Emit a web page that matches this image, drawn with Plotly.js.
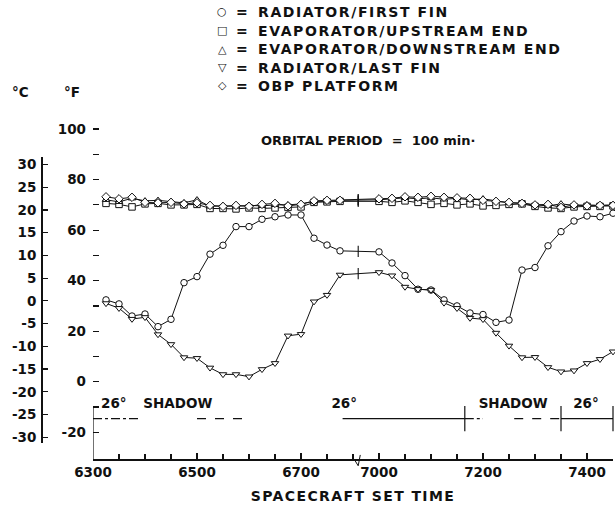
<!DOCTYPE html>
<html>
<head>
<meta charset="utf-8">
<script src="https://cdn.plot.ly/plotly-3.0.1.min.js"></script>
<style>
html,body{margin:0;padding:0;background:#fff;}
#chart{width:615px;height:513px;}
.xtitle{letter-spacing:1.4px;}
</style>
</head>
<body>
<div id="chart"></div>
<script>
// ---------------- DATA ----------------
const SERIES_NAMES = ['RADIATOR/FIRST FIN','EVAPORATOR/UPSTREAM END','EVAPORATOR/DOWNSTREAM END','RADIATOR/LAST FIN','OBP PLATFORM'];

// spacecraft set time of each reading
const TIME = [6325,6350,6375,6400,6425,6450,6475,6500,6525,6550,6575,6600,6625,6650,6675,6700,6725,6750,6775,
              7000,7025,7050,7075,7100,7125,7150,7175,7200,7225,7250,7275,7300,7325,7350,7375,7400,7425,7450];

// temperatures, deg F
const RADIATOR_FIRST_FIN = [32.4,30.8,26.0,26.8,21.8,24.7,39.2,41.6,50.5,54.0,61.4,61.4,64.3,65.3,66.0,66.0,56.8,54.1,51.8,
                            51.4,47.0,42.0,36.6,36.3,32.4,30.0,27.2,26.6,23.5,24.4,44.2,45.2,53.8,59.4,63.6,65.6,65.3,66.7];
const EVAP_UPSTREAM = [70.6,70.2,69.2,70.4,70.6,70.0,70.0,70.2,68.6,68.6,68.4,68.8,68.6,68.8,69.0,69.2,71.0,71.2,71.4,
                       71.4,71.0,71.6,71.0,70.2,70.6,70.0,70.4,69.6,69.8,70.2,70.4,69.4,68.8,68.6,69.2,69.4,69.4,69.6];
const EVAP_DOWNSTREAM = [72.0,71.2,72.6,71.6,71.8,71.4,70.8,72.0,69.4,69.6,69.4,69.8,69.6,70.0,70.0,70.4,71.4,71.4,71.8,
                         72.0,72.4,72.8,72.4,72.8,72.2,72.6,72.0,72.4,71.6,70.8,70.8,70.0,69.6,70.4,69.8,70.0,69.8,70.0];
const RADIATOR_LAST_FIN = [31.0,29.1,24.8,25.5,18.7,14.8,9.6,9.3,5.5,2.9,2.9,2.0,4.9,7.3,18.2,18.8,31.7,34.3,42.3,
                           43.3,42.0,37.5,36.6,36.3,31.2,29.1,25.2,24.7,19.3,14.2,9.6,9.7,5.7,4.0,4.4,7.3,8.9,11.9];
const OBP_PLATFORM = [73.2,72.4,73.0,71.0,70.8,71.0,70.4,70.8,69.8,69.4,69.8,69.4,70.2,70.6,69.6,70.2,71.6,71.8,71.8,
                      72.4,72.6,73.2,73.0,73.4,73.0,72.8,72.6,71.8,71.4,71.0,70.6,70.0,70.2,69.0,70.0,69.6,69.8,69.8];

// sun-angle / shadow bar
const BAR_START = [6300,6500,6780,7165,7260,7350];
const BAR_END   = [6390,6590,7165,7200,7350,7450];
const BAR_MARKS = [7165,7350,7450];
const BAR_LABELS = ['26°','SHADOW','26°','SHADOW','26°'];
const BAR_LABEL_TIME = [6340,6463,6783,7258,7398];

const X_TICK_LABELS = [6300,6500,6700,7000,7200,7400];
const F_TICKS = [-20,0,20,40,60,80,100];
const C_TICKS = [30,25,20,15,10,5,0,-5,-10,-15,-20,-25,-30];

// ---------------- STYLE / SCALES ----------------
const SERIES = [RADIATOR_FIRST_FIN, EVAP_UPSTREAM, EVAP_DOWNSTREAM, RADIATOR_LAST_FIN, OBP_PLATFORM];
const SYMBOLS = ['circle','square','triangle-up','triangle-down','diamond'];
const GLYPHS = ['○','□','△','▽','◇'];
const BAR_DASH = ['dashdot','dash','solid','dashdot','dash','solid'];
const FONT = '"DejaVu Sans", sans-serif';
const INK = '#111';

// broken time axis: the span between these two times is cut out
const BREAK_FROM = 6810, BREAK_TO = 6960;
const axisPos = t => (t >= BREAK_TO ? t - (BREAK_TO - BREAK_FROM) : t);

const W = 615, H = 513;
const M = {l: 40, r: 2, t: 120, b: 54};
const PW = W - M.l - M.r, PH = H - M.t - M.b;
const px2x = p => (p - M.l) / PW;          // pixel -> paper
const py2y = p => (H - M.b - p) / PH;

const F_RANGE = [-30.6, 103.6];
const cToF = c => c * 9 / 5 + 32;
const C_RANGE = [-31.3, 31.7];
const cFrac = c => (cToF(c) - F_RANGE[0]) / (F_RANGE[1] - F_RANGE[0]);

const BAR_LEVEL = -14.6;
const LABEL_LEVEL = -9.0;

const traces = [];
SERIES.forEach((vals, i) => {
  traces.push({
    type: 'scatter', mode: 'lines+markers', name: SERIES_NAMES[i],
    x: TIME.map(axisPos), y: vals,
    line: {color: INK, width: 1},
    marker: {symbol: SYMBOLS[i], size: 6.5, color: '#fff', line: {color: INK, width: 1}},
    cliponaxis: false, showlegend: false, hoverinfo: 'skip'
  });
});

// break marks on each curve (interpolated where it crosses the cut)
const iL = TIME.findIndex(t => t >= BREAK_TO) - 1;
const bx = BREAK_FROM;
const frac = (bx - axisPos(TIME[iL])) / (axisPos(TIME[iL + 1]) - axisPos(TIME[iL]));
traces.push({
  type: 'scatter', mode: 'markers',
  x: SERIES.map(() => bx),
  y: SERIES.map(v => v[iL] + (v[iL + 1] - v[iL]) * frac),
  marker: {symbol: 'line-ns', size: 8, line: {color: INK, width: 1.1}},
  showlegend: false, hoverinfo: 'skip'
});

// shadow bar
BAR_START.forEach((s, i) => {
  traces.push({
    type: 'scatter', mode: 'lines',
    x: [axisPos(s), axisPos(BAR_END[i])], y: [BAR_LEVEL, BAR_LEVEL],
    line: {color: INK, width: BAR_DASH[i] === 'solid' ? 1.4 : 1.1, dash: BAR_DASH[i]},
    showlegend: false, hoverinfo: 'skip', cliponaxis: false
  });
});
traces.push({
  type: 'scatter', mode: 'markers',
  x: BAR_MARKS.map(axisPos), y: BAR_MARKS.map(() => BAR_LEVEL),
  marker: {symbol: 'line-ns', size: 18, line: {color: INK, width: 1.2}},
  showlegend: false, hoverinfo: 'skip', cliponaxis: false
});
traces.push({
  type: 'scatter', mode: 'text',
  x: BAR_LABEL_TIME.map(axisPos), y: BAR_LABEL_TIME.map(() => LABEL_LEVEL),
  text: BAR_LABELS, textposition: 'middle center',
  textfont: {family: FONT, size: 13.5, color: INK, weight: 'bold'},
  showlegend: false, hoverinfo: 'skip', cliponaxis: false
});
// keeps the °C axis alive
traces.push({type: 'scatter', x: [], y: [], yaxis: 'y2', showlegend: false, hoverinfo: 'skip'});

// ---------------- ANNOTATIONS ----------------
const annotations = [];
const LEG_ROW_Y = [12, 30.5, 49, 67.5, 86];
const BOLD = {family: FONT, size: 14, color: INK, weight: 'bold'};
SERIES_NAMES.forEach((n, i) => {
  const y = py2y(LEG_ROW_Y[i]);
  annotations.push({xref: 'paper', yref: 'paper', x: px2x(222), y: y, xanchor: 'center', yanchor: 'middle',
    text: GLYPHS[i], showarrow: false, font: {family: FONT, size: 11, color: INK}});
  annotations.push({xref: 'paper', yref: 'paper', x: px2x(242), y: y, xanchor: 'center', yanchor: 'middle',
    text: '=', showarrow: false, font: BOLD});
  annotations.push({xref: 'paper', yref: 'paper', x: px2x(256), y: y, xanchor: 'left', yanchor: 'middle',
    text: '<span style="letter-spacing:1.6px">' + n + '</span>', showarrow: false, font: BOLD});
});
annotations.push({xref: 'paper', yref: 'paper', x: px2x(20), y: py2y(92), xanchor: 'center', yanchor: 'middle',
  text: '°C', showarrow: false, font: {family: FONT, size: 13.5, color: INK, weight: 'bold'}});
annotations.push({xref: 'paper', yref: 'paper', x: px2x(72), y: py2y(92), xanchor: 'center', yanchor: 'middle',
  text: '°F', showarrow: false, font: {family: FONT, size: 13.5, color: INK, weight: 'bold'}});
annotations.push({xref: 'paper', yref: 'paper', x: px2x(368), y: py2y(140), xanchor: 'center', yanchor: 'middle',
  text: 'ORBITAL PERIOD  =  100 min·', showarrow: false, font: {family: FONT, size: 13, color: INK, weight: 'bold'}});

// ---------------- LAYOUT ----------------
const TICKFONT = {family: FONT, size: 13.5, color: INK, weight: 'bold'};
const layout = {
  width: W, height: H, margin: M,
  paper_bgcolor: '#fff', plot_bgcolor: 'rgba(0,0,0,0)',
  font: {family: FONT, size: 13, color: INK},
  showlegend: false,
  xaxis: {
    domain: [px2x(93), 1], range: [axisPos(6300), axisPos(7450)],
    tickmode: 'array', tickvals: X_TICK_LABELS.map(axisPos), ticktext: X_TICK_LABELS.map(String),
    ticks: 'inside', ticklen: 6, tickwidth: 1.2, tickcolor: INK,
    minor: {tickmode: 'linear', tick0: 6300, dtick: 50, ticks: 'inside', ticklen: 5, tickwidth: 1.2, tickcolor: INK},
    showline: true, linecolor: INK, linewidth: 1.5, showgrid: false, zeroline: false,
    tickfont: TICKFONT,
    title: {text: 'SPACECRAFT SET TIME', font: {family: FONT, size: 14, color: INK, weight: 'bold'}, standoff: 12},
    anchor: 'y', fixedrange: true
  },
  yaxis: {
    domain: [0, 1], range: F_RANGE, anchor: 'x',
    tickmode: 'array', tickvals: F_TICKS, ticktext: F_TICKS.map(String),
    ticks: 'inside', ticklen: 6, tickwidth: 1.2, tickcolor: INK, ticklabelstandoff: 6,
    minor: {tickmode: 'array', tickvals: [-10, 10, 30, 50, 70, 90], ticks: 'inside', ticklen: 6, tickwidth: 1.2, tickcolor: INK},
    showline: false, showgrid: false, zeroline: false,
    tickfont: TICKFONT, fixedrange: true
  },
  yaxis2: {
    domain: [cFrac(C_RANGE[0]), cFrac(C_RANGE[1])], range: C_RANGE,
    anchor: 'free', position: px2x(41), side: 'left',
    tickmode: 'array', tickvals: C_TICKS, ticktext: C_TICKS.map(String),
    ticks: 'inside', ticklen: 5, tickwidth: 1.2, tickcolor: INK, ticklabelstandoff: 2,
    showline: true, linecolor: INK, linewidth: 1.5, showgrid: false, zeroline: false,
    tickfont: TICKFONT, fixedrange: true
  },
  shapes: [
    // left bracket of the shadow band / frame
    {type: 'line', xref: 'x', yref: 'y', x0: axisPos(6300), x1: axisPos(6300), y0: -10, y1: F_RANGE[0], line: {color: INK, width: 1.2}},
    // break notch on the time axis
    {type: 'path', xref: 'x', yref: 'paper', path: `M ${BREAK_FROM - 8},0 L ${BREAK_FROM},-0.02 L ${BREAK_FROM + 4},0.012`, line: {color: INK, width: 1}}
  ],
  annotations: annotations
};

Plotly.newPlot('chart', traces, layout, {staticPlot: true, displayModeBar: false});
</script>
</body>
</html>
